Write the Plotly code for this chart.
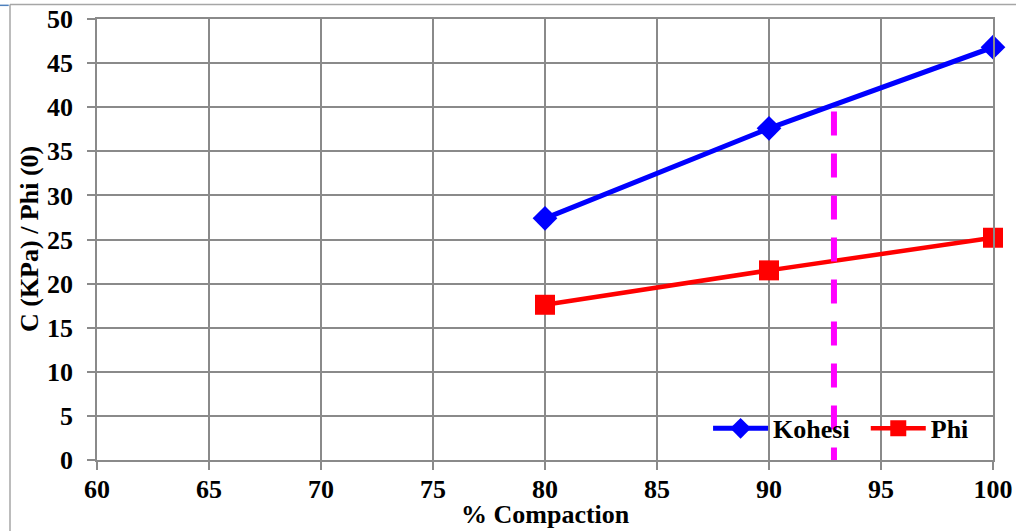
import plotly.graph_objects as go

compaction = [80, 90, 100]
kohesi = [27.4, 37.6, 46.8]
phi = [17.6, 21.5, 25.2]
marker_x = 92.9
marker_top = 39.5

x_ticks = [60, 65, 70, 75, 80, 85, 90, 95, 100]
y_ticks = [0, 5, 10, 15, 20, 25, 30, 35, 40, 45, 50]

FONT = "Liberation Serif, Times New Roman, serif"
GRID = "#8a8a8a"
LEGEND_FONT = dict(family=FONT, size=26, color="black", weight="bold")

fig = go.Figure()
fig.add_trace(go.Scatter(
    x=compaction, y=kohesi, name="Kohesi", mode="lines+markers",
    line=dict(color="#0000ff", width=5),
    marker=dict(symbol="diamond", size=19, color="#0000ff"),
    cliponaxis=False, legend="legend",
))
fig.add_trace(go.Scatter(
    x=compaction, y=phi, name="Phi", mode="lines+markers",
    line=dict(color="#ff0000", width=4.5),
    marker=dict(symbol="square", size=20, color="#ff0000"),
    cliponaxis=False, legend="legend2",
))

axis_common = dict(
    showgrid=True, gridcolor=GRID, gridwidth=1.6,
    showline=True, linecolor=GRID, linewidth=1.6, mirror=True,
    ticks="outside", ticklen=8, tickcolor=GRID, tickwidth=1.6,
    tickfont=dict(family=FONT, size=26, color="black", weight="bold"),
    zeroline=False, automargin=False,
)

fig.update_xaxes(range=[60, 100], tickvals=x_ticks, ticklabelstandoff=-3, **axis_common)
fig.update_yaxes(range=[0, 50], tickvals=y_ticks, ticklabelstandoff=9, **axis_common)

shapes = [
    # white legend box covering gridlines
    dict(type="rect", xref="paper", yref="paper", x0=0.665, x1=0.982, y0=0.018, y1=0.129,
         fillcolor="white", line=dict(width=0), layer="between"),
    # magenta dashed vertical marker
    dict(type="line", xref="x", yref="y", x0=marker_x, x1=marker_x, y0=marker_top, y1=0,
         line=dict(color="#ff00ff", width=6, dash="24px,18px"), layer="above"),
    # page frame
    dict(type="line", xref="paper", yref="paper", x0=-0.0971, x1=1.03, y0=1.0329, y1=1.0329,
         line=dict(color="#a6a6a6", width=1.5)),
    dict(type="line", xref="paper", yref="paper", x0=-0.0971, x1=-0.0971, y0=1.0329, y1=-0.17,
         line=dict(color="#a6a6a6", width=1.5)),
    dict(type="line", xref="paper", yref="paper", x0=-0.11, x1=-0.0985, y0=1.031, y1=1.031,
         line=dict(color="#4f81bd", width=1.5)),
]

annotations = [
    dict(text="C (KPa) / Phi (0)", xref="paper", yref="paper", x=(29 - 97) / 896, y=0.501,
         xanchor="center", yanchor="middle", textangle=-90, showarrow=False,
         font=dict(family=FONT, size=26, color="black", weight="bold")),
    dict(text="% Compaction", xref="paper", yref="paper", x=0.5, y=(460 - 514) / 441,
         xanchor="center", yanchor="middle", showarrow=False,
         font=dict(family=FONT, size=26, color="black", weight="bold")),
]

legend_common = dict(
    orientation="h", y=0.125, xanchor="left", yanchor="top",
    bgcolor="rgba(0,0,0,0)", borderwidth=0, itemwidth=55,
    font=LEGEND_FONT,
)

fig.update_layout(
    width=1016, height=531, autosize=False,
    margin=dict(l=97, r=23, t=19, b=71, pad=0),
    paper_bgcolor="white", plot_bgcolor="white",
    shapes=shapes, annotations=annotations,
    showlegend=True,
    legend=dict(x=0.682, **legend_common),
    legend2=dict(x=0.858, **legend_common),
)

fig.write_html("out.html")
